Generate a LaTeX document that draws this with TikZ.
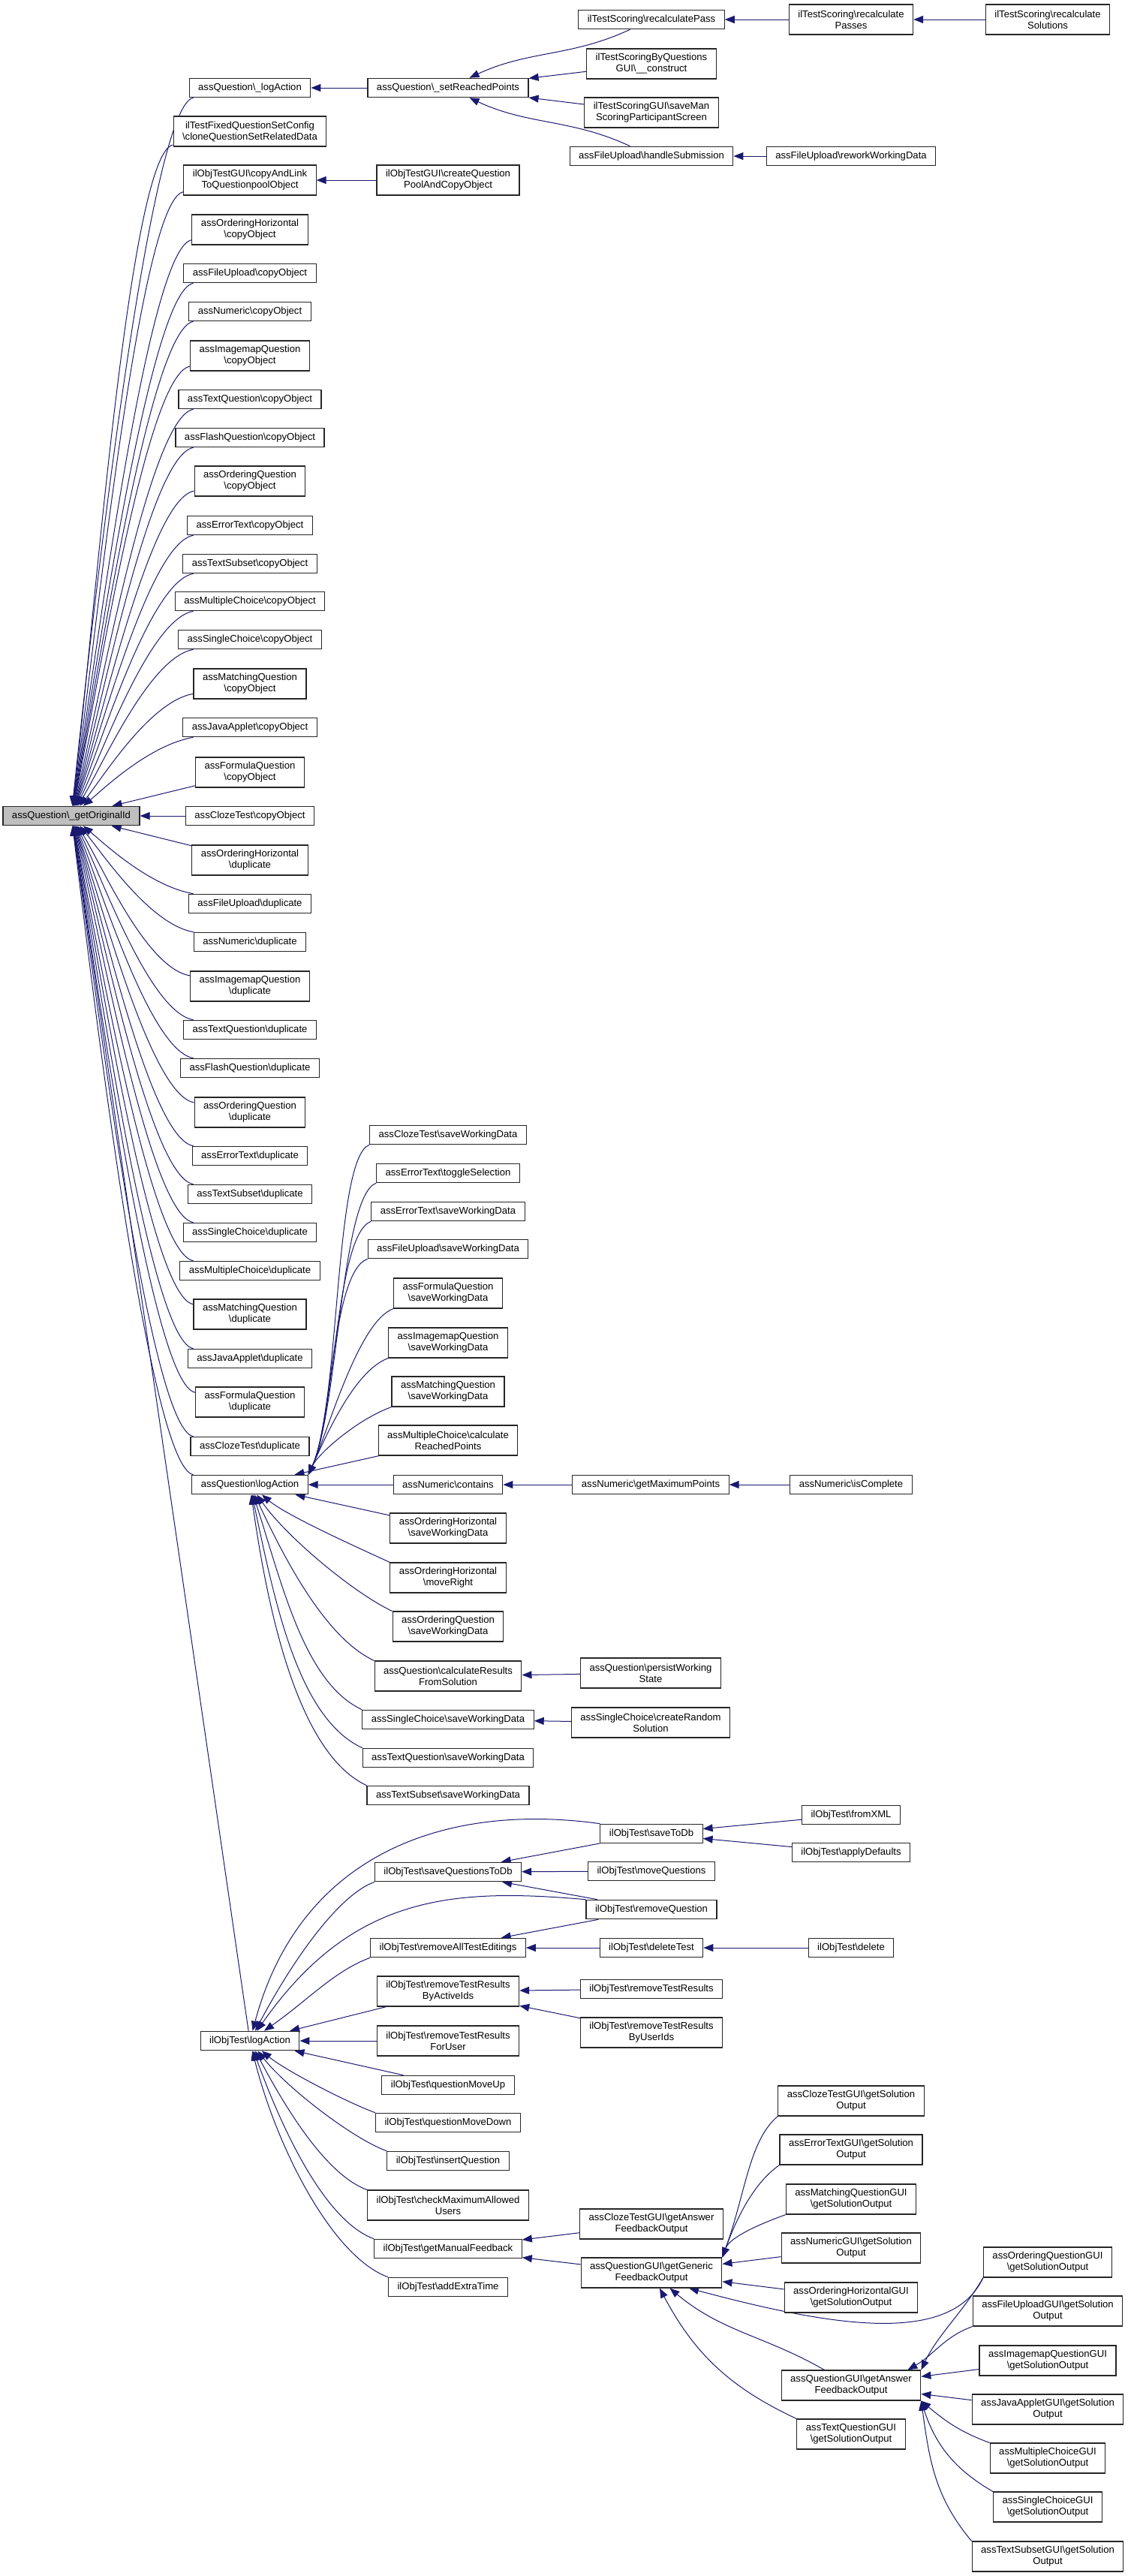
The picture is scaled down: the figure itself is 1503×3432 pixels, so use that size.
\documentclass[tikz,border=0pt]{standalone}
\usepackage{fontspec}
\setmainfont{Liberation Sans}
\usetikzlibrary{arrows.meta,backgrounds}
\newcommand{\bsl}{\textbackslash}
\definecolor{edgeblue}{HTML}{191970}
\definecolor{rootgray}{HTML}{BFBFBF}

\begin{document}
\begin{tikzpicture}[x=1pt,y=1pt,
  fn/.style={draw=black!85, line width=1.1pt, fill=white, font=\fontsize{13.1}{15}\selectfont,
    align=center, inner xsep=12pt, inner ysep=2pt, minimum height=25.5pt},
  two/.style={fn, minimum height=40pt},
  rootfn/.style={fn, fill=rootgray},
  call/.style={draw=edgeblue, line width=1pt, -{Triangle[length=13pt,width=10pt]}}]
 \useasboundingbox (0,0) rectangle (1503,-3432);

 \node[rootfn] (root) at (95,-1087) {assQuestion\bsl\_getOriginalId};

 \node[fn] (lgA) at (333,-117) {assQuestion\bsl\_logAction};
 \node[fn] (sRP) at (597,-117) {assQuestion\bsl\_setReachedPoints};
 \node[fn] (rPass) at (868,-26) {ilTestScoring\bsl recalculatePass};
 \node[two] (rPasses) at (1134,-26) {ilTestScoring\bsl recalculate\\Passes};
 \node[two] (rSol) at (1396,-26) {ilTestScoring\bsl recalculate\\Solutions};
 \node[two] (sbqC) at (868,-85) {ilTestScoringByQuestions\\GUI\bsl\_\_construct};
 \node[two] (smsP) at (868,-150) {ilTestScoringGUI\bsl saveMan\\ScoringParticipantScreen};
 \node[fn] (fuHS) at (868,-208) {assFileUpload\bsl handleSubmission};
 \node[fn] (fuRW) at (1134,-208) {assFileUpload\bsl reworkWorkingData};
 \node[two] (clone) at (333,-175) {ilTestFixedQuestionSetConfig\\\bsl cloneQuestionSetRelatedData};
 \node[two] (link) at (333,-240) {ilObjTestGUI\bsl copyAndLink\\ToQuestionpoolObject};
 \node[two] (cqPool) at (597,-240) {ilObjTestGUI\bsl createQuestion\\PoolAndCopyObject};
 \node[two] (ohCopy) at (333,-306) {assOrderingHorizontal\\\bsl copyObject};
 \node[fn] (fuCopy) at (333,-364) {assFileUpload\bsl copyObject};
 \node[fn] (nuCopy) at (333,-415) {assNumeric\bsl copyObject};
 \node[two] (imCopy) at (333,-474) {assImagemapQuestion\\\bsl copyObject};
 \node[fn] (tqCopy) at (333,-532) {assTextQuestion\bsl copyObject};
 \node[fn] (flCopy) at (333,-583) {assFlashQuestion\bsl copyObject};
 \node[two] (oqCopy) at (333,-641) {assOrderingQuestion\\\bsl copyObject};
 \node[fn] (etCopy) at (333,-700) {assErrorText\bsl copyObject};
 \node[fn] (tsCopy) at (333,-751) {assTextSubset\bsl copyObject};
 \node[fn] (mcCopy) at (333,-801) {assMultipleChoice\bsl copyObject};
 \node[fn] (scCopy) at (333,-852) {assSingleChoice\bsl copyObject};
 \node[two] (maCopy) at (333,-911) {assMatchingQuestion\\\bsl copyObject};
 \node[fn] (jaCopy) at (333,-969) {assJavaApplet\bsl copyObject};
 \node[two] (foCopy) at (333,-1029) {assFormulaQuestion\\\bsl copyObject};
 \node[fn] (clCopy) at (333,-1087) {assClozeTest\bsl copyObject};
 \node[two] (ohDup) at (333,-1146) {assOrderingHorizontal\\\bsl duplicate};
 \node[fn] (fuDup) at (333,-1204) {assFileUpload\bsl duplicate};
 \node[fn] (nuDup) at (333,-1255) {assNumeric\bsl duplicate};
 \node[two] (imDup) at (333,-1314) {assImagemapQuestion\\\bsl duplicate};
 \node[fn] (tqDup) at (333,-1372) {assTextQuestion\bsl duplicate};
 \node[fn] (flDup) at (333,-1423) {assFlashQuestion\bsl duplicate};
 \node[two] (oqDup) at (333,-1482) {assOrderingQuestion\\\bsl duplicate};
 \node[fn] (etDup) at (333,-1540) {assErrorText\bsl duplicate};
 \node[fn] (tsDup) at (333,-1591) {assTextSubset\bsl duplicate};
 \node[fn] (scDup) at (333,-1642) {assSingleChoice\bsl duplicate};
 \node[fn] (mcDup) at (333,-1693) {assMultipleChoice\bsl duplicate};
 \node[two] (maDup) at (333,-1751) {assMatchingQuestion\\\bsl duplicate};
 \node[fn] (jaDup) at (333,-1810) {assJavaApplet\bsl duplicate};
 \node[two] (foDup) at (333,-1868) {assFormulaQuestion\\\bsl duplicate};
 \node[fn] (clDup) at (333,-1927) {assClozeTest\bsl duplicate};
 \node[fn] (qlA) at (333,-1978) {assQuestion\bsl logAction};

 \node[fn] (ctSave) at (597,-1512) {assClozeTest\bsl saveWorkingData};
 \node[fn] (etTog) at (597,-1563) {assErrorText\bsl toggleSelection};
 \node[fn] (etSave) at (597,-1614) {assErrorText\bsl saveWorkingData};
 \node[fn] (fuSave) at (597,-1664) {assFileUpload\bsl saveWorkingData};
 \node[two] (foSave) at (597,-1723) {assFormulaQuestion\\\bsl saveWorkingData};
 \node[two] (imSave) at (597,-1789) {assImagemapQuestion\\\bsl saveWorkingData};
 \node[two] (maSave) at (597,-1854) {assMatchingQuestion\\\bsl saveWorkingData};
 \node[two] (mcCalc) at (597,-1919) {assMultipleChoice\bsl calculate\\ReachedPoints};
 \node[fn] (nuCont) at (597,-1978) {assNumeric\bsl contains};
 \node[two] (ohSave) at (597,-2036) {assOrderingHorizontal\\\bsl saveWorkingData};
 \node[two] (ohRight) at (597,-2102) {assOrderingHorizontal\\\bsl moveRight};
 \node[two] (oqSave) at (597,-2167) {assOrderingQuestion\\\bsl saveWorkingData};
 \node[two] (qCalc) at (597,-2233) {assQuestion\bsl calculateResults\\FromSolution};
 \node[fn] (scSave) at (597,-2291) {assSingleChoice\bsl saveWorkingData};
 \node[fn] (tqSave) at (597,-2342) {assTextQuestion\bsl saveWorkingData};
 \node[fn] (tsSave) at (597,-2392) {assTextSubset\bsl saveWorkingData};
 \node[fn] (nuMax) at (867,-1978) {assNumeric\bsl getMaximumPoints};
 \node[fn] (nuComp) at (1134,-1978) {assNumeric\bsl isComplete};
 \node[two] (persist) at (867,-2229) {assQuestion\bsl persistWorking\\State};
 \node[two] (scRand) at (867,-2295) {assSingleChoice\bsl createRandom\\Solution};

 \node[fn] (oLA) at (333,-2719) {ilObjTest\bsl logAction};
 \node[fn] (sqDb) at (597,-2494) {ilObjTest\bsl saveQuestionsToDb};
 \node[fn] (rATE) at (597,-2595) {ilObjTest\bsl removeAllTestEditings};
 \node[two] (rtrA) at (597,-2653) {ilObjTest\bsl removeTestResults\\ByActiveIds};
 \node[two] (rtrU) at (597,-2719) {ilObjTest\bsl removeTestResults\\ForUser};
 \node[fn] (qUp) at (597,-2778) {ilObjTest\bsl questionMoveUp};
 \node[fn] (qDown) at (597,-2828) {ilObjTest\bsl questionMoveDown};
 \node[fn] (insQ) at (597,-2879) {ilObjTest\bsl insertQuestion};
 \node[two] (chkU) at (597,-2938) {ilObjTest\bsl checkMaximumAllowed\\Users};
 \node[fn] (gMF) at (597,-2996) {ilObjTest\bsl getManualFeedback};
 \node[fn] (addT) at (597,-3047) {ilObjTest\bsl addExtraTime};
 \node[fn] (stDb) at (868,-2443) {ilObjTest\bsl saveToDb};
 \node[fn] (movQ) at (868,-2493) {ilObjTest\bsl moveQuestions};
 \node[fn] (remQ) at (868,-2544) {ilObjTest\bsl removeQuestion};
 \node[fn] (delT) at (868,-2595) {ilObjTest\bsl deleteTest};
 \node[fn] (rtr) at (868,-2650) {ilObjTest\bsl removeTestResults};
 \node[two] (rtrB) at (868,-2708) {ilObjTest\bsl removeTestResults\\ByUserIds};
 \node[fn] (fXML) at (1134,-2418) {ilObjTest\bsl fromXML};
 \node[fn] (aDef) at (1134,-2468) {ilObjTest\bsl applyDefaults};
 \node[fn] (oDel) at (1134,-2595) {ilObjTest\bsl delete};

 \node[two] (ctAFO) at (868,-2963) {assClozeTestGUI\bsl getAnswer\\FeedbackOutput};
 \node[two] (gGFO) at (868,-3028) {assQuestionGUI\bsl getGeneric\\FeedbackOutput};
 \node[two] (ctGSO) at (1134,-2799) {assClozeTestGUI\bsl getSolution\\Output};
 \node[two] (etGSO) at (1134,-2864) {assErrorTextGUI\bsl getSolution\\Output};
 \node[two] (maGSO) at (1134,-2930) {assMatchingQuestionGUI\\\bsl getSolutionOutput};
 \node[two] (nuGSO) at (1134,-2995) {assNumericGUI\bsl getSolution\\Output};
 \node[two] (ohGSO) at (1134,-3061) {assOrderingHorizontalGUI\\\bsl getSolutionOutput};
 \node[two] (qAFO) at (1134,-3178) {assQuestionGUI\bsl getAnswer\\FeedbackOutput};
 \node[two] (tqGSO) at (1134,-3243) {assTextQuestionGUI\\\bsl getSolutionOutput};
 \node[two] (oqGSO) at (1396,-3014) {assOrderingQuestionGUI\\\bsl getSolutionOutput};
 \node[two] (fuGSO) at (1396,-3079) {assFileUploadGUI\bsl getSolution\\Output};
 \node[two] (imGSO) at (1396,-3145) {assImagemapQuestionGUI\\\bsl getSolutionOutput};
 \node[two] (jaGSO) at (1396,-3210) {assJavaAppletGUI\bsl getSolution\\Output};
 \node[two] (mcGSO) at (1396,-3275) {assMultipleChoiceGUI\\\bsl getSolutionOutput};
 \node[two] (scGSO) at (1396,-3340) {assSingleChoiceGUI\\\bsl getSolutionOutput};
 \node[two] (tsGSO) at (1396,-3406) {assTextSubsetGUI\bsl getSolution\\Output};

 \begin{scope}[on background layer]
 \foreach \nm/\ang/\dst in {lgA/84/240, clone/83/225, link/82/210, ohCopy/81/190, fuCopy/80/175,
   nuCopy/79/165, imCopy/78/150, tqCopy/76/135, flCopy/74/120, oqCopy/72/108, etCopy/70/95,
   tsCopy/67/80, mcCopy/63/70, scCopy/58/60, maCopy/50/45, jaCopy/40/35}
   \draw[call] (\nm) to[out=190, in=\ang, out distance=60, in distance=\dst] (root);
 \draw[call] (foCopy) -- (root);
 \draw[call] (clCopy) -- (root);
 \draw[call] (ohDup) -- (root);
 \foreach \nm/\ang/\dst in {fuDup/-40/35, nuDup/-50/45, imDup/-58/60, tqDup/-63/70, flDup/-67/80,
   oqDup/-70/95, etDup/-72/108, tsDup/-74/120, scDup/-76/135, mcDup/-78/150, maDup/-79/165,
   jaDup/-80/175, foDup/-81/190, clDup/-82/210, qlA/-83/225}
   \draw[call] (\nm) to[out=170, in=\ang, out distance=60, in distance=\dst] (root);
 \draw[call] (oLA) -- (root);

 \draw[call] (sRP) -- (lgA);
 \draw[call] (rPass) to[out=205, in=25] (sRP);
 \draw[call] (sbqC) -- (sRP);
 \draw[call] (smsP) -- (sRP);
 \draw[call] (fuHS) to[out=155, in=-25] (sRP);
 \draw[call] (rPasses) -- (rPass);
 \draw[call] (rSol) -- (rPasses);
 \draw[call] (fuRW) -- (fuHS);
 \draw[call] (cqPool) -- (link);

 \foreach \nm/\dst in {ctSave/100, etTog/95, etSave/85, fuSave/75, foSave/60, imSave/45, maSave/30}
   \draw[call] (\nm.south west) to[out=200, in=65, out distance=50, in distance=\dst] (qlA.north east);
 \draw[call] (mcCalc) -- (qlA);
 \draw[call] (nuCont) -- (qlA);
 \draw[call] (ohSave) -- (qlA);
 \foreach \nm/\ang/\od/\dst in {ohRight/-40/40/45, oqSave/-55/55/70, qCalc/-65/70/100,
   scSave/-72/85/125, tqSave/-78/95/145, tsSave/-82/100/160}
   \draw[call] (\nm.north west) to[out=155, in=\ang, out distance=\od, in distance=\dst] (qlA);
 \draw[call] (nuMax) -- (nuCont);
 \draw[call] (nuComp) -- (nuMax);
 \draw[call] (persist) -- (qCalc);
 \draw[call] (scRand) -- (scSave);

 \draw[call] (stDb.north west) to[out=172, in=75, out distance=200, in distance=250] (oLA);
 \draw[call] (remQ.north west) to[out=175, in=55, out distance=180, in distance=220] (oLA);
 \draw[call] (sqDb.south west) to[out=200, in=62, out distance=50, in distance=110] (oLA);
 \draw[call] (rATE.south west) to[out=200, in=35, out distance=50, in distance=70] (oLA);
 \draw[call] (rtrA) -- (oLA);
 \draw[call] (rtrU) -- (oLA);
 \draw[call] (qUp) -- (oLA);
 \foreach \nm/\ang/\od/\dst in {qDown/-40/40/40, insQ/-52/50/60, chkU/-62/60/80,
   gMF/-70/70/110, addT/-76/80/130}
   \draw[call] (\nm.north west) to[out=160, in=\ang, out distance=\od, in distance=\dst] (oLA);
 \draw[call] (stDb) -- (sqDb);
 \draw[call] (movQ) -- (sqDb);
 \draw[call] (remQ) -- (sqDb);
 \draw[call] (remQ) -- (rATE);
 \draw[call] (delT) -- (rATE);
 \draw[call] (oDel) -- (delT);
 \draw[call] (rtr) -- (rtrA);
 \draw[call] (rtrB) -- (rtrA);
 \draw[call] (fXML) -- (stDb);
 \draw[call] (aDef) -- (stDb);

 \draw[call] (ctAFO) -- (gMF);
 \draw[call] (gGFO) -- (gMF);
 \foreach \nm/\ang/\od/\dst in {ctGSO/220/50/90, etGSO/215/40/60, maGSO/200/30/30}
   \draw[call] (\nm.south west) to[out=\ang, in=70, out distance=\od, in distance=\dst] (gGFO.north east);
 \draw[call] (nuGSO) -- (gGFO);
 \draw[call] (ohGSO) -- (gGFO);
 \draw[call] (oqGSO.south west) to[out=245, in=-15, out distance=100, in distance=200] ([xshift=50pt]gGFO.south);
 \draw[call] (qAFO) to[out=150, in=-40] (gGFO);
 \draw[call] (tqGSO.north west) to[out=155, in=-62] (gGFO);

 \draw[call] (oqGSO.south west) to[out=240, in=65, out distance=50, in distance=50] (qAFO.north east);
 \draw[call] (fuGSO.south west) to[out=200, in=30, out distance=40, in distance=40] ([xshift=-18pt]qAFO.north east);
 \draw[call] (imGSO) -- (qAFO);
 \draw[call] (jaGSO) -- (qAFO);
 \draw[call] (mcGSO.north west) to[out=160, in=-40] (qAFO.south east);
 \draw[call] (scGSO.north west) to[out=150, in=-72] (qAFO.south east);
 \draw[call] (tsGSO.north west) to[out=130, in=-82] (qAFO.south east);
 \end{scope}
\end{tikzpicture}
\end{document}
